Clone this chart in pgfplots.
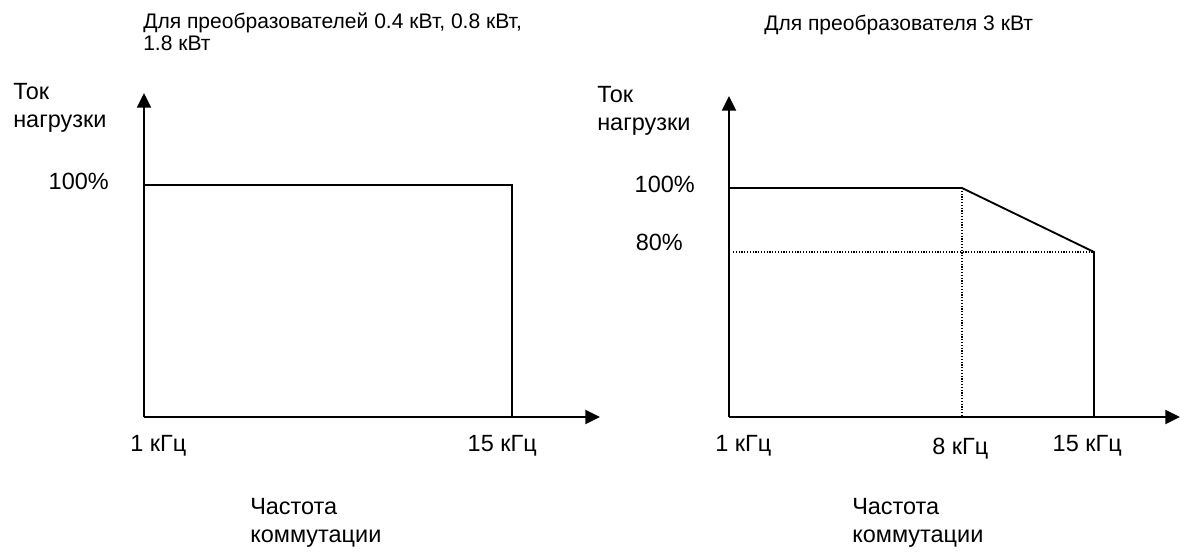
\documentclass[border=0pt]{standalone}
\usepackage{fontspec}
\setmainfont{Liberation Sans}
\usepackage{pgfplots}
\pgfplotsset{compat=1.18}
\usetikzlibrary{arrows.meta}
\newcommand\lbl{\fontsize{17.6}{21}\selectfont}
\newcommand\ttl{\fontsize{15.8}{19}\selectfont}
\begin{document}
\begin{tikzpicture}
\useasboundingbox (0,0) rectangle (885pt,414pt);
\pgfplotsset{
  myaxis/.style={
    axis lines=left,
    clip=false,
    xtick=\empty, ytick=\empty,
    axis line style={line width=1.4pt},
    every outer x axis line/.append style={-{Triangle[length=11pt,width=10.5pt]}},
    every outer y axis line/.append style={-{Triangle[length=11pt,width=10.5pt]}},
    every inner x axis line/.append style={-{Triangle[length=11pt,width=10.5pt]}},
    every inner y axis line/.append style={-{Triangle[length=11pt,width=10.5pt]}},
  },
  solidline/.style={black, line width=1.4pt, no markers},
  dotline/.style={black, line width=0.9pt, dash pattern=on 0.9pt off 1.2pt, no markers},
}
% Left panel: x in kHz, y in %
\begin{axis}[myaxis,
  anchor=south west, at={(108pt,101.25pt)},
  x=19.714pt, y=2.4pt,
  xmin=1, xmax=18.35, ymin=27.5, ymax=128.75]
\addplot[solidline] coordinates {(1,100) (15,100) (15,27.5)};
\end{axis}
% Right panel: x positions of 1, 8, 15 kHz, y in %
\begin{axis}[myaxis,
  anchor=south west, at={(546.75pt,101.25pt)},
  x=0.75pt, y=2.4pt,
  xmin=0, xmax=451, ymin=28.44, ymax=128.75]
\addplot[dotline] coordinates {(233,100) (233,28.44)};
\addplot[dotline] coordinates {(4,80) (365,80)};
\addplot[solidline] coordinates {(0,100) (233,100) (365,80) (365,28.44)};
\end{axis}
\begin{scope}[x=0.75pt, y=-0.75pt, yshift=414pt]
\tikzset{t/.style={inner sep=0pt, anchor=base west}, te/.style={inner sep=0pt, anchor=base east}}
% titles
\node[t] at (143,29) {\ttl Для преобразователей 0.4 кВт, 0.8 кВт,};
\node[t] at (143,51) {\ttl 1.8 кВт};
\node[t] at (764,31) {\ttl Для преобразователя 3 кВт};
% left panel labels
\node[t] at (13,100) {\lbl Ток};
\node[t] at (13,128) {\lbl нагрузки};
\node[te] at (109,190) {\lbl 100\%};
\node[t] at (130,452) {\lbl 1 кГц};
\node[te] at (537,452) {\lbl 15 кГц};
\node[t] at (250,515) {\lbl Частота};
\node[t] at (250,543) {\lbl коммутации};
% right panel labels
\node[t] at (597,103) {\lbl Ток};
\node[t] at (597,131) {\lbl нагрузки};
\node[te] at (695,193) {\lbl 100\%};
\node[te] at (683,251) {\lbl 80\%};
\node[t] at (715,452) {\lbl 1 кГц};
\node[t] at (932,455) {\lbl 8 кГц};
\node[te] at (1122,452) {\lbl 15 кГц};
\node[t] at (852,515) {\lbl Частота};
\node[t] at (852,543) {\lbl коммутации};
\end{scope}
\end{tikzpicture}
\end{document}
